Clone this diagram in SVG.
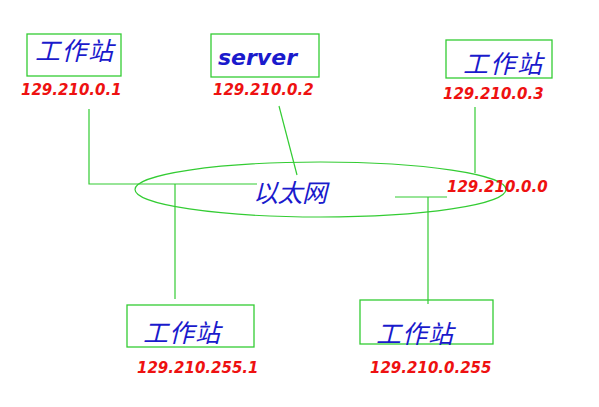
<svg xmlns="http://www.w3.org/2000/svg" width="599" height="407" viewBox="0 0 599 407">
<style>
.box{fill:none;stroke:#33cc33;stroke-width:1.3}
.ln{fill:none;stroke:#33cc33;stroke-width:1.2}
.cn{font-family:"Noto Sans CJK SC","DejaVu Sans",sans-serif;font-style:italic;font-size:25px;fill:#1a1acc}
.en{font-family:"DejaVu Sans",sans-serif;font-style:italic;font-weight:bold;font-size:22px;fill:#1a1acc}
.ip{font-family:"DejaVu Sans",sans-serif;font-style:italic;font-weight:bold;font-size:15px;fill:#ee1111}
</style>
<rect width="599" height="407" fill="#ffffff"/>
<g id="connectors">
<ellipse class="ln" cx="320.5" cy="189.5" rx="185.5" ry="27.5"/>
<polyline class="ln" points="89,109 89,184 257,184"/>
<line class="ln" x1="175" y1="184" x2="175" y2="299"/>
<line class="ln" x1="279" y1="106" x2="297" y2="175"/>
<line class="ln" x1="475" y1="107" x2="475" y2="173"/>
<line class="ln" x1="395" y1="197" x2="447" y2="197"/>
<line class="ln" x1="428" y1="197" x2="428" y2="304"/>
</g>
<g id="ethernet">
<text class="cn" x="253" y="202" textLength="74">以太网</text>
<text class="ip" x="447" y="192">129.210.0.0</text>
</g>
<g id="ws1">
<rect class="box" x="27" y="34" width="94" height="42"/>
<text class="cn" x="35" y="60" textLength="78">工作站</text>
<text class="ip" x="21" y="95">129.210.0.1</text>
</g>
<g id="server">
<rect class="box" x="211" y="34" width="108" height="43"/>
<text class="en" x="218" y="65">server</text>
<text class="ip" x="213" y="95">129.210.0.2</text>
</g>
<g id="ws3">
<rect class="box" x="446" y="40" width="106" height="38"/>
<text class="cn" x="463" y="73" textLength="79">工作站</text>
<text class="ip" x="443" y="99">129.210.0.3</text>
</g>
<g id="ws4">
<rect class="box" x="127" y="305" width="127" height="42"/>
<text class="cn" x="143" y="342" textLength="77">工作站</text>
<text class="ip" x="137" y="373">129.210.255.1</text>
</g>
<g id="ws5">
<rect class="box" x="360" y="300" width="133" height="44"/>
<text class="cn" x="376" y="343" textLength="77">工作站</text>
<text class="ip" x="370" y="373">129.210.0.255</text>
</g>
</svg>
